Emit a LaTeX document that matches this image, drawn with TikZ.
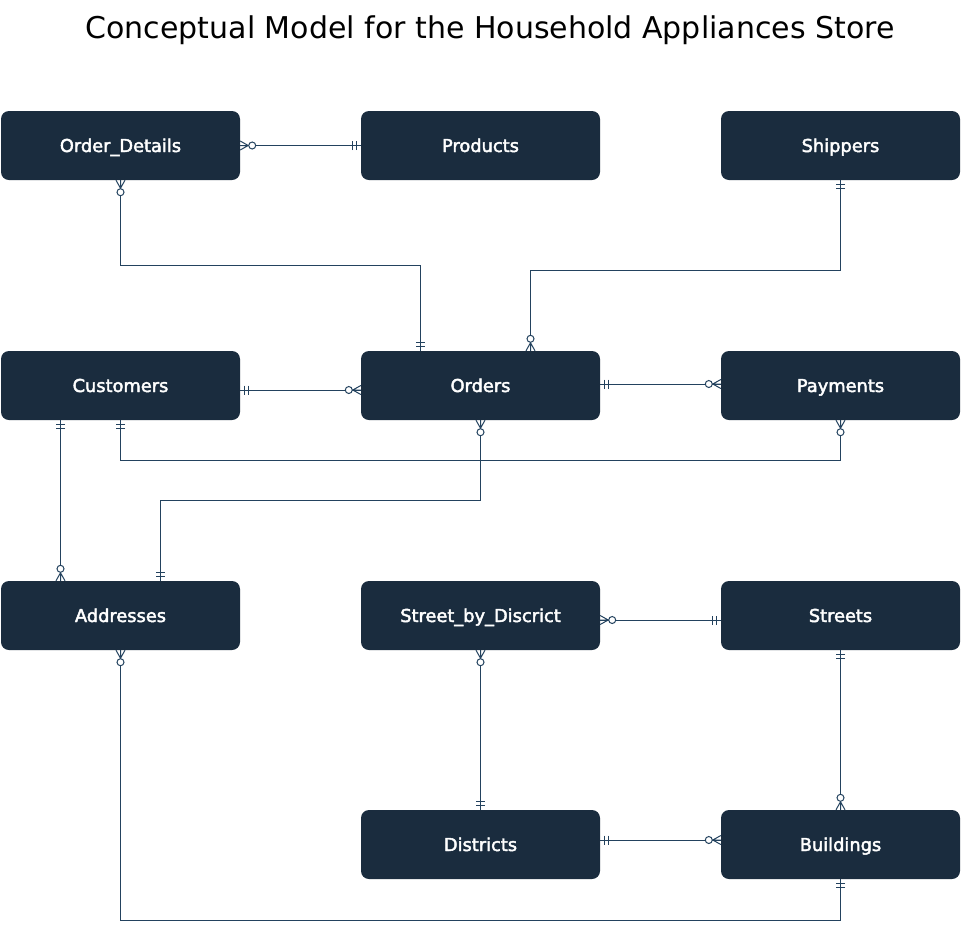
\documentclass[tikz,border=0pt]{standalone}
\usepackage{fontspec}
\setmainfont{DejaVu Sans}
\newfontfamily\lblfont[FakeBold=2.5]{DejaVu Sans}
\usetikzlibrary{calc}
\definecolor{boxc}{HTML}{1A2C3E}
\definecolor{connc}{HTML}{23425E}
\tikzset{
  ent/.style={fill=boxc, draw=none, rounded corners=8pt, minimum width=239pt, minimum height=69pt,
    inner sep=0pt, text=white, font=\lblfont\fontsize{17.8}{20}\selectfont, text height=13pt, text depth=0pt},
  conn/.style={draw=connc, line width=1pt},
  mk/.style={draw=connc, line width=1pt},
  zm/.pic={\draw[mk] (0,-4.5) -- (8,0) -- (0,4.5) (0,0) -- (8,0);
           \draw[mk, fill=white] (12,0) circle[radius=3.5pt];},
  oo/.pic={\draw[mk] (4,-4.5) -- (4,4.5) (8,-4.5) -- (8,4.5);}
}
\begin{document}
\begin{tikzpicture}[x=1pt, y=-1pt]
\useasboundingbox[fill=white] (0,0) rectangle (961,930);
\node[anchor=base, font=\fontsize{30}{34}\selectfont] (title) at (490,38.3) {Conceptual Model for the Household Appliances Store};

\node[ent] (od)  at (120.5,145.5) {Order\_Details};
\node[ent] (pr)  at (480.5,145.5) {Products};
\node[ent] (sh)  at (840.5,145.5) {Shippers};
\node[ent] (cu)  at (120.5,385.5) {Customers};
\node[ent] (or)  at (480.5,385.5) {Orders};
\node[ent] (pa)  at (840.5,385.5) {Payments};
\node[ent] (ad)  at (120.5,615.5) {Addresses};
\node[ent] (sbd) at (480.5,615.5) {Street\_by\_Discrict};
\node[ent] (st)  at (840.5,615.5) {Streets};
\node[ent] (di)  at (480.5,844.5) {Districts};
\node[ent] (bu)  at (840.5,844.5) {Buildings};

\coordinate (orN1) at ($(or.north)+(-60,0)$);
\coordinate (orN2) at ($(or.north)+(50,0)$);
\coordinate (cuE)  at ($(cu.east)+(0,4.5)$);
\coordinate (orW)  at ($(or.west)+(0,4.5)$);
\coordinate (orE)  at ($(or.east)+(0,-1.5)$);
\coordinate (paW)  at ($(pa.west)+(0,-1.5)$);
\coordinate (cuS2) at ($(cu.south)+(-60,0)$);
\coordinate (adN1) at ($(ad.north)+(-60,0)$);
\coordinate (adN2) at ($(ad.north)+(40,0)$);
\coordinate (sbdE) at ($(sbd.east)+(0,4.5)$);
\coordinate (stW)  at ($(st.west)+(0,4.5)$);
\coordinate (diE)  at ($(di.east)+(0,-4.5)$);
\coordinate (buW)  at ($(bu.west)+(0,-4.5)$);

% connectors
\draw[conn] (od.east) -- (pr.west);
\draw[conn] (od.south) -- ++(0,85) -| (orN1);
\draw[conn] (sh.south) -- ++(0,90) -| (orN2);
\draw[conn] (cuE) -- (orW);
\draw[conn] (orE) -- (paW);
\draw[conn] (cu.south) -- ++(0,40) -| (pa.south);
\draw[conn] (cuS2) -- (adN1);
\draw[conn] (or.south) -- ++(0,80) -| (adN2);
\draw[conn] (ad.south) -- ++(0,270) -| (bu.south);
\draw[conn] (sbdE) -- (stW);
\draw[conn] (sbd.south) -- (di.north);
\draw[conn] (st.south) -- (bu.north);
\draw[conn] (diE) -- (buW);

% markers
\pic[rotate=0]   at (od.east)  {zm};
\pic[rotate=180] at (pr.west)  {oo};
\pic[rotate=-90] at (od.south) {zm};
\pic[rotate=90]  at (orN1)     {oo};
\pic[rotate=-90] at (sh.south) {oo};
\pic[rotate=90]  at (orN2)     {zm};
\pic[rotate=0]   at (cuE)      {oo};
\pic[rotate=180] at (orW)      {zm};
\pic[rotate=0]   at (orE)      {oo};
\pic[rotate=180] at (paW)      {zm};
\pic[rotate=-90] at (cu.south) {oo};
\pic[rotate=-90] at (pa.south) {zm};
\pic[rotate=-90] at (cuS2)     {oo};
\pic[rotate=90]  at (adN1)     {zm};
\pic[rotate=-90] at (or.south) {zm};
\pic[rotate=90]  at (adN2)     {oo};
\pic[rotate=-90] at (ad.south) {zm};
\pic[rotate=-90] at (bu.south) {oo};
\pic[rotate=0]   at (sbdE)     {zm};
\pic[rotate=180] at (stW)      {oo};
\pic[rotate=-90] at (sbd.south){zm};
\pic[rotate=90]  at (di.north) {oo};
\pic[rotate=-90] at (st.south) {oo};
\pic[rotate=90]  at (bu.north) {zm};
\pic[rotate=0]   at (diE)      {oo};
\pic[rotate=180] at (buW)      {zm};
\end{tikzpicture}
\end{document}
